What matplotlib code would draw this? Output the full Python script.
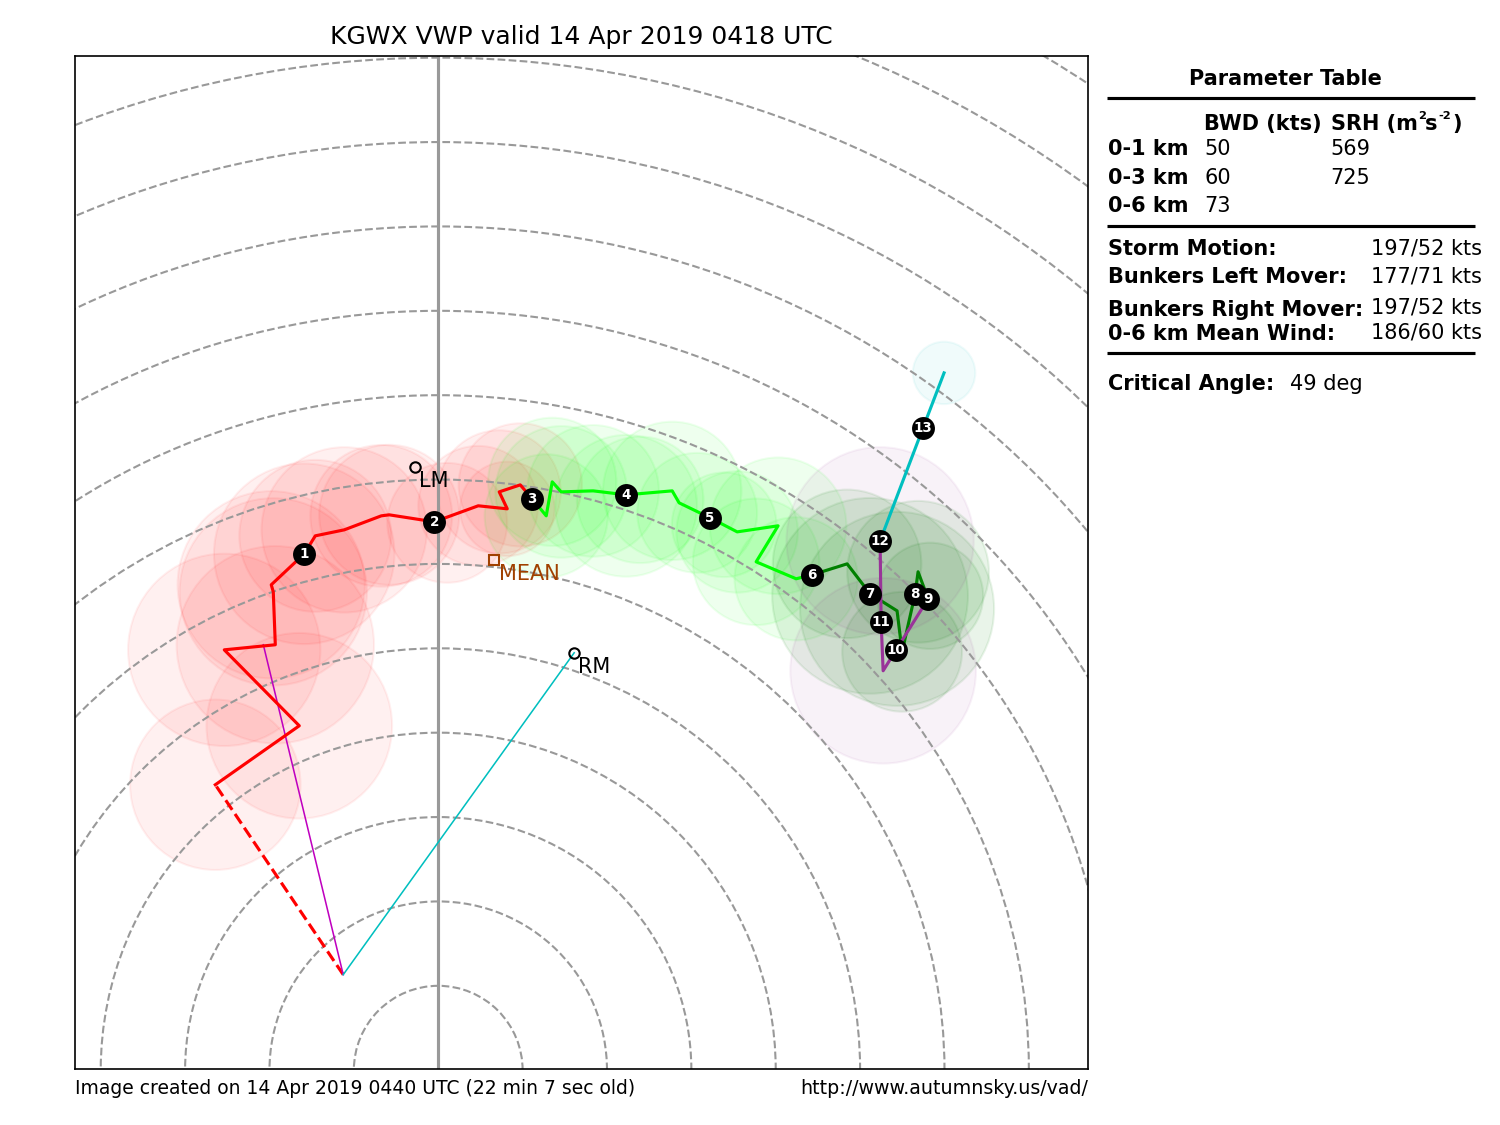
import matplotlib
matplotlib.use("Agg")
import matplotlib.pyplot as plt
from matplotlib.lines import Line2D
from matplotlib.patches import Circle

# hodograph segments, u / v in kts
red_u = [-26.42, -16.47, -25.36, -19.31, -19.55, -19.79, -15.88, -14.57, -11.14, -6.75, -5.81, -0.47, 4.74, 8.18, 7.23, 9.72, 11.14]
red_v = [33.71, 40.70, 49.70, 50.30, 56.58, 57.41, 61.08, 63.21, 63.92, 65.58, 65.70, 64.87, 66.77, 66.41, 68.42, 69.25, 67.60]

lime_u = [11.14, 12.80, 13.51, 14.57, 18.36, 22.27, 27.73, 28.55, 32.23, 35.43, 40.28, 37.68, 42.42, 44.31]
lime_v = [67.60, 65.58, 69.61, 68.42, 68.54, 68.07, 68.54, 67.12, 65.34, 63.68, 64.40, 60.13, 58.12, 58.59]

green_u = [44.31, 48.46, 51.18, 54.38, 54.98, 56.52, 56.87, 58.06]
green_v = [58.59, 59.89, 56.34, 54.32, 49.47, 56.34, 58.95, 55.75]

purple_u = [58.06, 54.27, 52.73, 52.49, 52.37]
purple_v = [55.75, 49.70, 47.22, 53.02, 62.62]

cyan_u = [52.37, 57.46, 59.95]
cyan_v = [62.62, 76.01, 82.52]

# uncertainty circles, centre and radius in kts
red_cu = [-26.42, -16.47, -25.36, -19.31, -19.55, -19.79, -15.88, -14.57, -11.14, -6.75, -5.81, 1.07, 4.74, 8.18, 7.23, 9.72]
red_cv = [33.71, 40.70, 49.70, 50.30, 56.58, 57.41, 61.08, 63.21, 63.92, 65.58, 65.70, 64.75, 66.77, 66.41, 68.42, 69.25]
red_cr = [10.1, 11.0, 11.4, 11.7, 11.1, 11.1, 10.7, 9.0, 9.8, 8.4, 8.3, 7.1, 7.1, 5.6, 7.3, 7.3]

lime_cu = [12.80, 13.51, 14.57, 18.36, 22.27, 23.93, 27.73, 30.69, 33.89, 35.43, 40.28, 37.68, 42.42]
lime_cv = [65.58, 69.61, 68.42, 68.54, 66.77, 67.48, 68.54, 65.94, 64.52, 63.68, 64.40, 60.13, 58.12]
lime_cr = [7.3, 7.6, 7.8, 7.8, 8.4, 7.5, 8.2, 7.1, 6.2, 7.2, 8.1, 7.5, 7.3]

green_cu = [48.46, 51.18, 54.38, 54.98, 56.87, 58.29]
green_cv = [59.89, 56.10, 54.56, 49.47, 58.95, 56.10]
green_cr = [8.8, 11.6, 11.5, 7.1, 8.4, 6.3]

purple_cu = [52.73, 52.37]
purple_cv = [47.22, 62.62]
purple_cr = [11.0, 11.1]

cyan_cu = [59.95]
cyan_cv = [82.52]
cyan_cr = [3.7]

# height markers, km
hgt_km = [1, 2, 3, 4, 5, 6, 7, 8, 9, 10, 11, 12, 13]
hgt_u = [-15.88, -0.47, 11.14, 22.27, 32.23, 44.31, 51.18, 56.52, 58.06, 54.27, 52.49, 52.37, 57.46]
hgt_v = [61.08, 64.87, 67.60, 68.07, 65.34, 58.59, 56.34, 56.34, 55.75, 49.70, 53.02, 62.62, 76.01]

# storm motion vectors
storm = (-11.26, 11.20)
lm = (-2.73, 71.39)
rm = (16.11, 49.35)
mean = (6.64, 60.37)
crit_end = (-20.73, 50.30)
low_end = (red_u[0], red_v[0])

ring_speeds = list(range(10, 160, 10))

table_rows = ["0-1 km", "0-3 km", "0-6 km"]
table_bwd = ["50", "60", "73"]
table_srh = ["569", "725", ""]

fig = plt.figure(figsize=(10, 7.5), dpi=150)
ax = fig.add_axes([0.05, 0.05, 0.675, 0.9])
ax.set_xlim(-43.05, 76.95)
ax.set_ylim(0.05, 120.05)
ax.set_xticks([])
ax.set_yticks([])
ax.set_title("KGWX VWP valid 14 Apr 2019 0418 UTC", fontsize=12)

circles = [
    (red_cu, red_cv, red_cr, "#ff0000", 0.06),
    (lime_cu, lime_cv, lime_cr, "#00ff00", 0.065),
    (green_cu, green_cv, green_cr, "#008000", 0.085),
    (purple_cu, purple_cv, purple_cr, "#800080", 0.05),
    (cyan_cu, cyan_cv, cyan_cr, "#00bfbf", 0.06),
]
for us, vs, rs, col, alpha in circles:
    for u, v, r in zip(us, vs, rs):
        ax.add_patch(Circle((u, v), r, color=col, alpha=alpha, lw=1, zorder=1))

for s in ring_speeds:
    ax.add_patch(Circle((0, -0.12), s, fill=False, ec="#999999", ls="--", lw=1, zorder=2))
ax.axvline(0, color="#999999", lw=1.5, zorder=2)

ax.plot(red_u, red_v, color="#ff0000", lw=1.5, zorder=4)
ax.plot(lime_u, lime_v, color="#00ff00", lw=1.5, zorder=4)
ax.plot(green_u, green_v, color="#008000", lw=1.5, zorder=4)
ax.plot(purple_u, purple_v, color="#993399", lw=1.5, zorder=4)
ax.plot(cyan_u, cyan_v, color="#00bfbf", lw=1.5, zorder=4)

ax.plot([storm[0], low_end[0]], [storm[1], low_end[1]], color="#ff0000", ls="--", lw=1.5, zorder=3)
ax.plot([storm[0], crit_end[0]], [storm[1], crit_end[1]], color="#bf00bf", lw=0.75, zorder=3)
ax.plot([storm[0], rm[0]], [storm[1], rm[1]], color="#00bfbf", lw=0.75, zorder=3)

ax.plot(lm[0], lm[1], "o", mfc="none", mec="k", ms=5, mew=1, zorder=5)
ax.plot(rm[0], rm[1], "o", mfc="none", mec="k", ms=5, mew=1, zorder=5)
ax.plot(mean[0], mean[1], "s", mfc="none", mec="#a04000", ms=5, mew=1, zorder=5)
ax.annotate("LM", lm, xytext=(2, -2), textcoords="offset points", va="top", fontsize=10)
ax.annotate("RM", rm, xytext=(2, -2), textcoords="offset points", va="top", fontsize=10)
ax.annotate("MEAN", mean, xytext=(2.5, -2), textcoords="offset points", va="top", fontsize=10, color="#a04000")

for km, u, v in zip(hgt_km, hgt_u, hgt_v):
    ax.plot(u, v, "o", color="k", ms=11, mew=0, zorder=6)
    ax.text(u, v, str(km), color="w", fontsize=6.5, fontweight="bold", ha="center", va="center", zorder=7)


def px(x, y):
    return x / 1500, 1 - y / 1125


def put(x, y, s, size=10, **kw):
    fx, fy = px(x, y)
    fig.text(fx, fy, s, fontsize=size, va="center", **kw)


def rule(y):
    x0, y0 = px(1107, y)
    x1, _ = px(1475, y)
    fig.add_artist(Line2D([x0, x1], [y0, y0], color="k", lw=1.5, solid_capstyle="butt"))


put(1285, 79, "Parameter Table", fontweight="bold", ha="center")
rule(98)
put(1204, 124, "BWD (kts)", fontweight="bold")
put(1331, 124, "SRH (m", fontweight="bold")
put(1418, 116, "2", size=5.5, fontweight="bold")
put(1425, 124, "s", fontweight="bold")
put(1438, 116, "-2", size=5.5, fontweight="bold")
put(1452, 124, ")", fontweight="bold")
for y, name, bwd, srh in zip([149, 178, 206], table_rows, table_bwd, table_srh):
    put(1108, y, name, fontweight="bold")
    put(1204, y, bwd)
    put(1330, y, srh)
rule(226)
put(1108, 249, "Storm Motion:", fontweight="bold")
put(1371, 248, "197/52 kts")
put(1108, 277, "Bunkers Left Mover:", fontweight="bold")
put(1371, 276, "177/71 kts")
put(1108, 310, "Bunkers Right Mover:", fontweight="bold")
put(1371, 307, "197/52 kts")
put(1108, 334, "0-6 km Mean Wind:", fontweight="bold")
put(1371, 333, "186/60 kts")
rule(353)
put(1108, 384, "Critical Angle:", fontweight="bold")
put(1290, 384, "49 deg")

fx, fy = px(75, 1088.5)
fig.text(fx, fy, "Image created on 14 Apr 2019 0440 UTC (22 min 7 sec old)", fontsize=9, va="center")
fx, fy = px(1088, 1088.5)
fig.text(fx, fy, "http://www.autumnsky.us/vad/", fontsize=9.1, va="center", ha="right")

plt.savefig("out.png", dpi=150)
